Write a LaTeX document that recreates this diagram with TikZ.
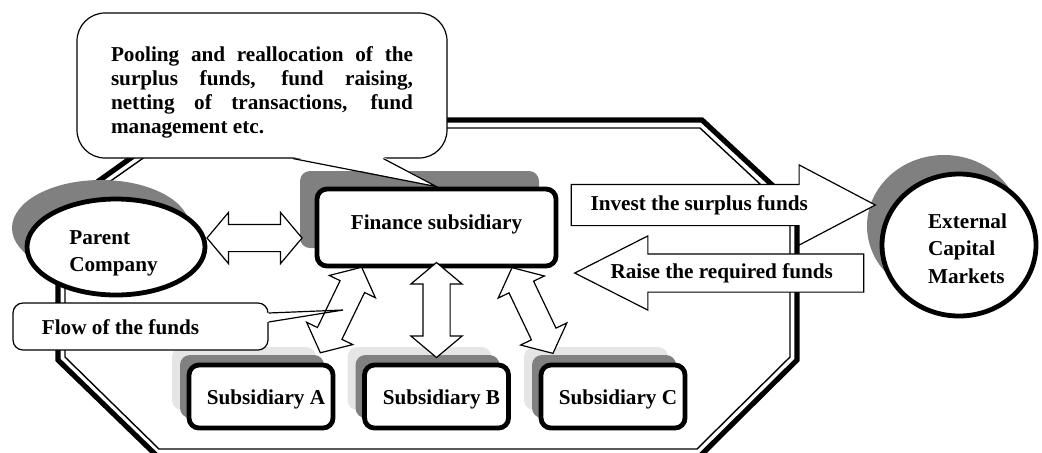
\documentclass[tikz,border=0pt]{standalone}
\usepackage{fontspec}
\setmainfont{Liberation Serif}
\usetikzlibrary{calc,shapes.geometric,shapes.arrows,shadows}
\definecolor{shadowdark}{RGB}{128,128,128}
\definecolor{shadowlight}{RGB}{229,229,229}
\tolerance=10000
\hyphenpenalty=10000
\tikzset{
  company/.style={ellipse, draw, fill=white, line width=2.4pt, inner sep=0pt,
    general shadow={fill=shadowdark, shadow xshift=-7.5pt, shadow yshift=9.5pt}},
  finbox/.style={rectangle, rounded corners=5pt, draw, fill=white, line width=2.4pt,
    general shadow={fill=shadowdark, shadow xshift=-8.5pt, shadow yshift=9pt}},
  subbox/.style={rectangle, rounded corners=5pt, draw, fill=white, line width=2.4pt,
    minimum width=72pt, minimum height=31.5pt, text height=10pt, text depth=2pt,
    general shadow={fill=shadowlight, shadow xshift=-8.5pt, shadow yshift=9pt},
    general shadow={fill=shadowdark, shadow xshift=-4.5pt, shadow yshift=5pt}},
  bubble/.style={draw, fill=white, line width=0.6pt},
  dblarrow/.style={double arrow, draw, fill=white, line width=0.6pt, inner xsep=0pt,
    inner ysep=6.5pt, double arrow head extend=6pt, double arrow tip angle=100,
    minimum height=47.5pt},
  bigarrow/.style={single arrow, draw, fill=white, line width=0.6pt, inner xsep=0pt}
}
\begin{document}
\begin{tikzpicture}[x=0.5pt, y=-0.5pt, font=\fontsize{10.6}{12}\selectfont\bfseries]
  \useasboundingbox (0,0) rectangle (1042,452);
  % group frame
  \draw[line width=2.6pt] (184,120) -- (702,120) -- (797,208) -- (797,360) -- (700,456)
    -- (157,456) -- (58,360) -- (58,210) -- cycle;
  \draw[line width=0.7pt] (186,128) -- (700,128) -- (790,212) -- (790,357) -- (697,449)
    -- (159,449) -- (65,357) -- (65,213) -- cycle;

  \node[finbox, minimum width=119.5pt, minimum height=38.5pt, text height=7.3pt,
    text depth=5.8pt] (fin) at (436.5,227.5) {Finance subsidiary};
  \node[company, minimum width=89pt, minimum height=48pt,
    label={[align=left, font=\fontsize{10.6}{13.5}\selectfont\bfseries,
      xshift=-1.25pt, yshift=-3.4pt]center:Parent\\Company}] (parent) at (116,247) {};
  \node[company, minimum width=77pt, minimum height=71pt,
    label={[align=left, font=\fontsize{10.6}{13.75}\selectfont\bfseries,
      xshift=4.25pt, yshift=-1.75pt]center:External\\Capital\\Markets}] (ext) at (959,245) {};
  \node[subbox] (subA) at (261,396.5) {\hspace*{5pt}Subsidiary A};
  \node[subbox] (subB) at (436.5,396.5) {\hspace*{5pt}Subsidiary B};
  \node[subbox] (subC) at (613,396.5) {\hspace*{5pt}Subsidiary C};

  % callout at the top
  \node[bubble, rounded corners=14pt, minimum width=185pt, minimum height=72.5pt,
    text width=151pt, align=justify] (pool) at (262,85.5)
    {\rule{0pt}{14.3pt}Pooling and reallocation of the surplus funds, fund raising, netting of transactions, fund management etc.};
  \coordinate (pb1) at ($(pool.south west)!0.584!(pool.south east)$);
  \coordinate (pb2) at ($(pool.south west)!0.827!(pool.south east)$);
  \fill[white] ($(pb1)+(0,-1.5)$) -- (fin.north) -- ($(pb2)+(0,-1.5)$) -- cycle;
  \draw[line width=0.6pt] (pb1) -- (fin.north) -- (pb2);

  % flows of funds
  \path ($(parent.east)+(0,-9)$) -- ($(fin.west)+(-13,10.5)$) node[dblarrow, midway, sloped] (pf) {};
  \path ($(fin.south west)+(47,-1)$) -- ($(subA.north east)+(-15,-10)$) node[dblarrow, midway, sloped] (fa) {};
  \path ($(fin.south)+(0,-5)$) -- ($(subB.north)+(0,-6)$) node[dblarrow, midway, sloped] (fb) {};
  \path ($(fin.south east)+(-46,0)$) -- ($(subC.north west)+(14,-10)$) node[dblarrow, midway, sloped] (fc) {};

  \node[bigarrow, minimum height=152pt, inner ysep=10pt, single arrow head extend=9.75pt,
    single arrow tip angle=55.5, anchor=tip] (invest) at ($(ext.west)+(-3,-40)$) {};
  \node (investlbl) at ($(invest.tail)!0.42!(invest.tip)$) {Invest the surplus funds};
  \node[bigarrow, shape border rotate=180, minimum height=144.5pt, inner ysep=9.25pt,
    single arrow head extend=9pt, single arrow tip angle=53.8, anchor=tip] (raise)
    at ($(fin.east)+(15,45.5)$) {};
  \node (raiselbl) at ($(raise.tail)!0.49!(raise.tip)$) {Raise the required funds};

  % callout on the left
  \node[bubble, rounded corners=5pt, minimum width=127.5pt, minimum height=23.5pt,
    text height=9.5pt, text depth=1.5pt] (flow) at (140.5,326.5) {Flow of the funds\hspace*{20pt}};
  \coordinate (flowtip) at ($(flow.east)+(74.5,-16.5)$);
  \coordinate (fb1) at ($(flow.east)+(0,-13.5)$);
  \coordinate (fb2) at ($(flow.east)+(0,-4.5)$);
  \fill[white] ($(fb1)+(-1.5,0)$) -- ($(fb1)!0.4!(flowtip)$) -- ($(fb2)!0.4!(flowtip)$)
    -- ($(fb2)+(-1.5,0)$) -- cycle;
  \draw[line width=0.6pt] (fb1) -- (flowtip) -- (fb2);
\end{tikzpicture}
\end{document}
